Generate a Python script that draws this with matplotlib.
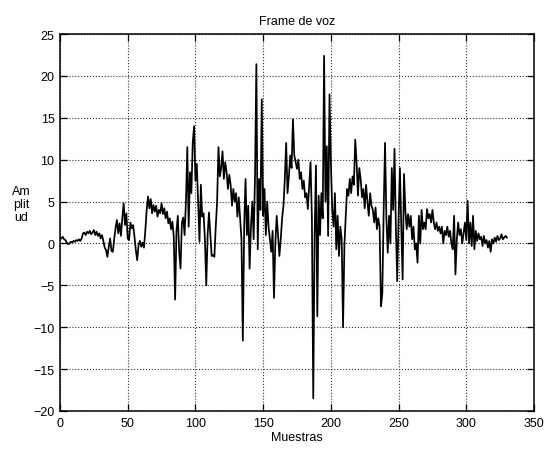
import numpy as np
import matplotlib
matplotlib.use("Agg")
import matplotlib.pyplot as plt

plt.rcParams['font.family'] = ['Liberation Sans', 'DejaVu Sans']

# frame de voz (330 muestras)
amplitud = [
    0.6, 0.8, 0.5, 0.4, 0.1, -0.1, 0.0, 0.2, 0.1, 0.3,
    0.2, 0.4, 0.3, 0.5, 0.3, 0.6, 1.2, 1.3, 1.0, 1.4,
    1.2, 1.5, 1.1, 1.3, 1.6, 1.0, 1.4, 0.9, 1.2, 0.6,
    1.0, 0.3, -0.5, -0.8, -1.6, -0.4, 0.6, -0.9, -1.0, 0.5,
    1.8, 2.8, 1.2, 2.4, 0.9, 3.0, 4.8, 2.2, 3.6, 0.6,
    0.4, 2.5, 1.8, 2.2, 0.8, -0.8, -2.0, -0.2, 0.3, -0.4,
    0.1, -0.5, 1.5, 4.0, 5.6, 4.2, 5.3, 3.6, 4.6, 3.8,
    4.5, 3.2, 4.0, 3.6, 4.8, 3.5, 4.2, 3.0, 3.8, 2.4,
    3.0, 1.7, 2.6, 0.8, -6.7, 1.5, 3.3, -1.0, -3.0, 2.5,
    3.1, 1.0, 5.0, 11.5, 2.0, 8.5, 6.0, 12.0, 14.0, 7.5,
    9.5, 5.0, 0.2, 7.0, 3.2, 3.6, 0.5, -5.0, 1.0, 3.7,
    1.0, -1.5, -1.4, -1.6, 2.0, 4.9, 11.5, 8.0, 9.0, 11.0,
    7.7, 9.7, 8.5, 6.5, 8.2, 7.0, 4.5, 6.5, 5.0, 6.0,
    3.2, 5.5, 3.0, 0.5, -11.6, 2.0, 7.7, 1.0, 4.5, -3.0,
    2.0, 5.0, 0.5, 8.0, 21.4, -0.7, 7.7, 4.0, 17.2, 3.3,
    6.5, 1.0, 5.0, 2.0, 0.5, -1.0, 1.5, -6.5, 0.0, 3.3,
    1.0, -1.5, 0.5, 3.0, 4.5, 7.7, 12.0, 6.0, 8.0, 10.5,
    9.0, 14.8, 10.5, 9.7, 8.9, 10.0, 7.7, 8.5, 6.5, 7.5,
    5.5, 6.0, 4.1, 7.0, 9.7, 3.0, -18.5, 0.9, 9.3, -8.7,
    5.7, 1.0, 6.0, 3.0, 22.4, 5.0, 11.6, 0.9, 17.8, 9.7,
    4.1, 2.0, 6.0, -0.7, 3.3, -1.5, 2.0, 0.5, -10.0, -0.3,
    3.3, 6.5, 5.7, 7.7, 6.0, 8.0, 7.0, 12.4, 9.7, 5.7,
    9.0, 7.7, 5.5, 6.5, 4.2, 7.0, 5.0, 3.3, 6.0, 4.5,
    4.0, 2.5, 4.3, 1.7, 3.0, 2.0, -7.5, -6.0, 4.0, 12.0,
    3.0, -1.1, 3.3, 0.0, 9.0, 4.0, 11.3, 2.0, -4.5, 3.0,
    9.0, 2.0, -4.3, 8.3, 4.0, 1.7, 3.5, 2.0, 3.3, 0.5,
    2.0, -0.7, 0.0, -2.3, 3.3, 0.0, 4.0, 1.7, 2.5, 1.7,
    4.1, 3.0, 3.5, 2.5, 4.0, 2.5, 1.7, 2.5, 1.5, 2.0,
    1.2, 2.0, 0.0, 1.5, 1.0, 2.0, 0.8, 1.5, 0.0, -0.7,
    3.3, -3.7, 0.5, 2.5, 1.0, 1.7, 0.0, 1.2, 2.5, 0.4,
    5.1, 0.0, 2.5, -0.3, 3.3, -0.7, 1.5, 0.3, 1.2, 0.5,
    0.8, -0.3, 0.9, 0.0, 0.4, -0.5, 0.3, -1.0, 0.5, 0.0,
    0.7, 0.2, 0.9, 0.4, 0.6, 1.1, 0.5, 0.7, 0.9, 0.7,
]
muestras = np.arange(1, len(amplitud) + 1)

x_ticks = [0, 50, 100, 150, 200, 250, 300, 350]
y_ticks = [-20, -15, -10, -5, 0, 5, 10, 15, 20, 25]

W, H = 548, 456
fig = plt.figure(figsize=(W / 100, H / 100), dpi=100)
ax = fig.add_axes([60 / W, 1 - 412 / H, 474 / W, 377 / H])

ax.plot(muestras, amplitud, color='black', lw=1.25)

ax.set_xlim(0, 350)
ax.set_ylim(-20, 25)
ax.set_xticks(x_ticks)
ax.set_yticks(y_ticks)
ax.tick_params(direction='in', length=5, width=0.9, labelsize=9, colors='black',
               top=True, right=True, pad=4)
ax.grid(True, color='#333333', linestyle=':', linewidth=0.8)
for s in ax.spines.values():
    s.set_linewidth(1.1)

ax.set_title('Frame de voz', fontsize=9, pad=7)
ax.set_xlabel('Muestras', fontsize=9, labelpad=2)
fig.text(21 / W, 1 - 205 / H, 'Am\nplit\nud', fontsize=9, ha='center', va='center',
         linespacing=1.1)

fig.savefig('out.png', dpi=100)
